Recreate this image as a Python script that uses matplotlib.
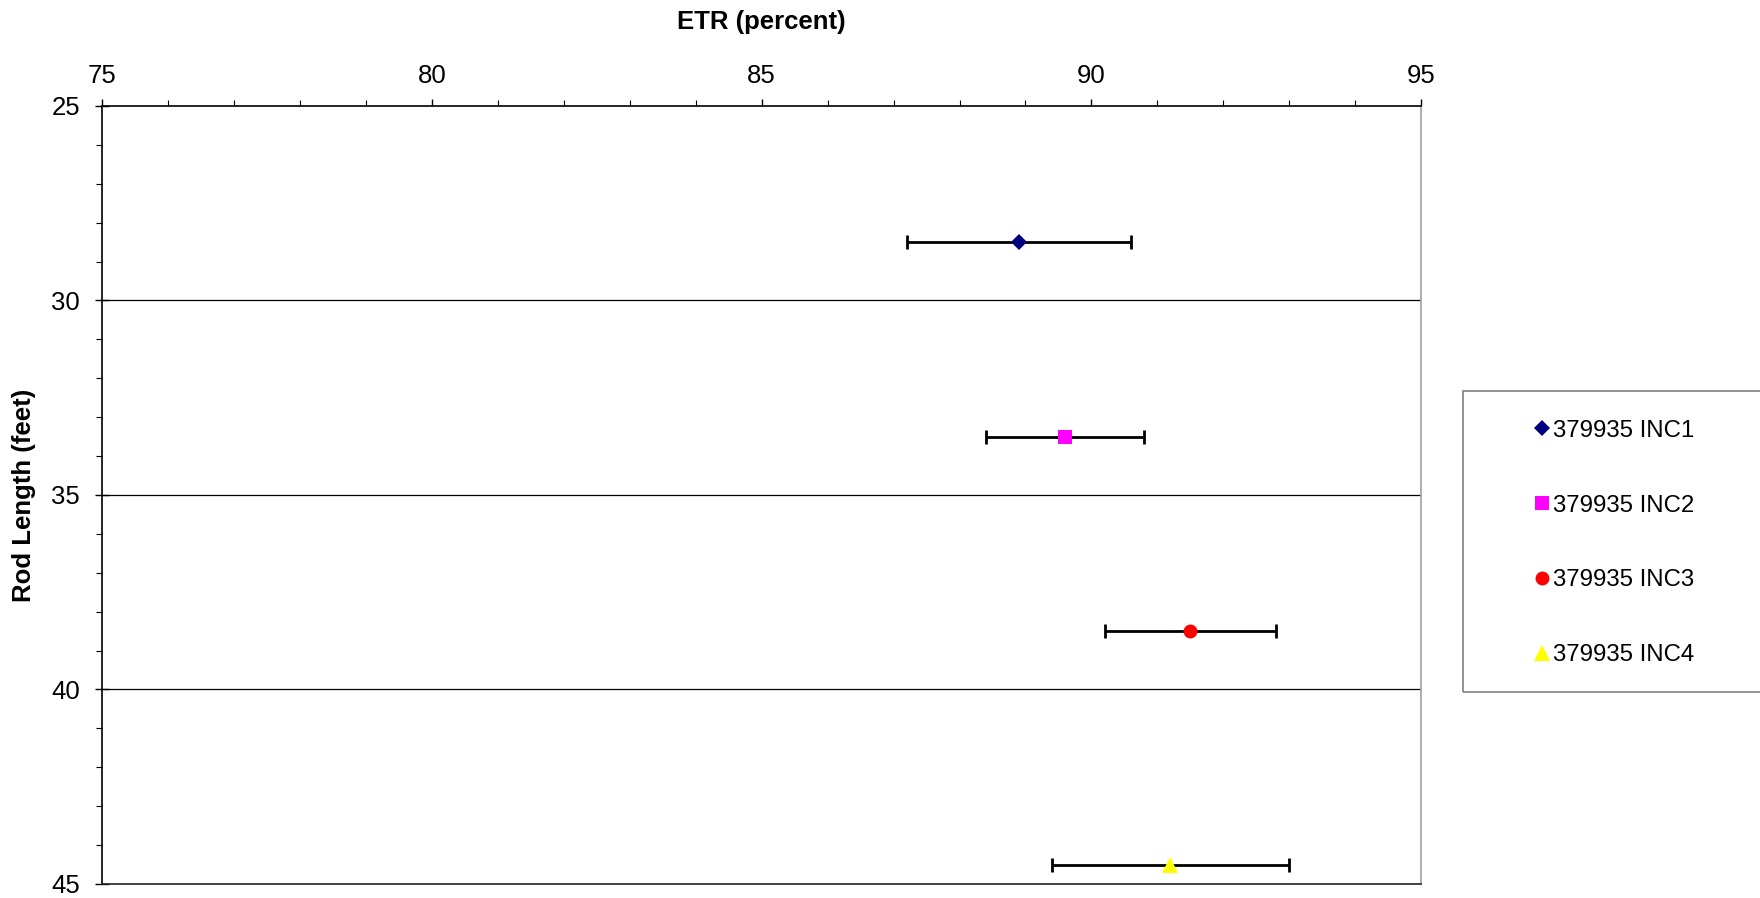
import matplotlib.pyplot as plt
from matplotlib.patches import Rectangle
from matplotlib.ticker import MultipleLocator

plt.rcParams['font.family'] = ['Liberation Sans', 'DejaVu Sans']

# data
series = ['379935 INC1', '379935 INC2', '379935 INC3', '379935 INC4']
etr = [88.9, 89.6, 91.5, 91.2]
etr_err = [1.7, 1.2, 1.3, 1.8]
rod_length = [28.5, 33.5, 38.5, 44.5]
markers = ['D', 's', 'o', '^']
colors = ['#000080', '#FF00FF', '#FF0000', '#FFFF00']
msizes = [8, 10, 10, 11]

fig = plt.figure(figsize=(17.6, 8.98), dpi=100)
ax = fig.add_axes([0.0582, 0.0156, 0.7492, 0.8664])

# horizontal gridlines
for y in [30, 35, 40]:
    ax.axhline(y, color='black', lw=0.9, zorder=1)

for i in range(len(series)):
    ax.errorbar(etr[i], rod_length[i], xerr=etr_err[i], fmt='none',
                ecolor='black', elinewidth=2, capsize=5, capthick=2, zorder=2)
    ax.plot(etr[i], rod_length[i], linestyle='none', marker=markers[i],
            color=colors[i], markersize=msizes[i], markeredgewidth=0,
            label=series[i], zorder=3)

ax.set_xlim(75, 95)
ax.set_ylim(45, 25)
ax.xaxis.set_major_locator(MultipleLocator(5))
ax.xaxis.set_minor_locator(MultipleLocator(1))
ax.yaxis.set_major_locator(MultipleLocator(5))
ax.yaxis.set_minor_locator(MultipleLocator(1))

ax.xaxis.tick_top()
ax.xaxis.set_label_position('top')
ax.tick_params(axis='x', which='major', direction='out', length=5, width=1,
               pad=8, labelsize=18.5)
ax.tick_params(axis='x', which='minor', direction='out', length=4, width=0.8)
ax.tick_params(axis='y', which='major', direction='inout', length=10, width=1,
               pad=11, labelsize=18.5)
ax.tick_params(axis='y', which='minor', direction='out', length=4.5, width=0.8)

ax.spines['top'].set_color('black')
ax.spines['left'].set_color('black')
ax.spines['bottom'].set_color('#222222')
ax.spines['right'].set_color('#A0A0A0')
for s in ax.spines.values():
    s.set_linewidth(1.2)

ax.set_xlabel('ETR (percent)', fontsize=18.5, fontweight='bold')
ax.xaxis.label.set_va('center')
ax.xaxis.set_label_coords(0.5, 1.108)
ax.set_ylabel('Rod Length (feet)', fontsize=18.5, fontweight='bold')
ax.yaxis.label.set_va('center')
ax.yaxis.set_label_coords(-0.0595, 0.5)

# legend box running off the right edge
fig.patches.append(Rectangle((0.8313, 0.2294), 0.3, 0.3352,
                             transform=fig.transFigure, fill=False,
                             edgecolor='#808080', linewidth=1.2))
fig.legend(loc='upper left', bbox_to_anchor=(0.866, 0.546), frameon=False,
           fontsize=17.3, handlelength=0.5, handletextpad=0.2,
           labelspacing=2.2, borderpad=0, numpoints=1)

fig.savefig('out.png', dpi=100)
